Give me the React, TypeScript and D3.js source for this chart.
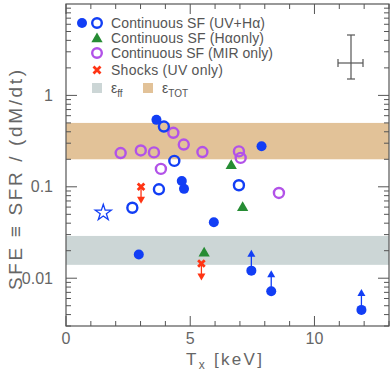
import * as d3 from "d3"

// T_x [keV] and SFE values
const uvFilledT = [3.64, 7.87, 4.66, 4.75, 5.95, 2.93]
const uvFilledSfe = [0.54, 0.278, 0.116, 0.095, 0.041, 0.0182]

const uvLimitT = [7.46, 8.26, 11.89]
const uvLimitSfe = [0.0121, 0.0072, 0.0045]

const uvOpenT = [3.94, 4.36, 3.74, 2.67, 6.96]
const uvOpenSfe = [0.456, 0.192, 0.094, 0.059, 0.104]

const starT = [1.5]
const starSfe = [0.052]

const haT = [6.65, 7.11, 5.56]
const haSfe = [0.174, 0.0605, 0.0192]

const mirT = [2.2, 3.01, 3.54, 4.32, 4.74, 5.49, 6.96, 7.03, 3.82, 8.57]
const mirSfe = [0.234, 0.25, 0.238, 0.39, 0.29, 0.24, 0.244, 0.207, 0.157, 0.0856]

const shockT = [3.02, 5.45]
const shockSfe = [0.1, 0.0145]

const effBand = [0.014, 0.029]
const etotBand = [0.2, 0.5]

const xTickLabels = [0, 5, 10]
const yTickLabels = [0.01, 0.1, 1]

const W = 391
const H = 378
const BLUE = "rgb(18,62,245)"
const PURPLE = "rgb(178,82,232)"
const GREEN = "rgb(38,140,52)"
const RED = "rgb(255,52,20)"
const TAN = "rgb(226,194,152)"
const GREY = "rgb(204,214,214)"
const AXIS = "#555"
const FONT = "'Liberation Sans', Arial, sans-serif"

const x = d3.scaleLinear().domain([0, 13]).range([66, 389])
const y = d3.scaleLog().domain([0.003, 10]).range([326, 4])

const tri = d3.symbol().type(d3.symbolTriangle).size(55)()
const star = d3.symbol().type(d3.symbolStar).size(80)()

function Cross({ cx, cy, s = 4 }: { cx: number; cy: number; s?: number }) {
  return (
    <path
      d={`M${cx - s},${cy - s}L${cx + s},${cy + s}M${cx - s},${cy + s}L${cx + s},${cy - s}`}
      stroke={RED}
      strokeWidth={2.8}
    />
  )
}

function Arrow({ cx, y0, y1, color }: { cx: number; y0: number; y1: number; color: string }) {
  const dir = y1 < y0 ? -1 : 1
  return (
    <g>
      <line x1={cx} x2={cx} y1={y0} y2={y1 - dir * 6} stroke={color} strokeWidth={1.3} />
      <path d={`M${cx - 4},${y1 - dir * 7}L${cx + 4},${y1 - dir * 7}L${cx},${y1}Z`} fill={color} />
    </g>
  )
}

export default function App() {
  const xMinor = d3.range(0, 14)
  const yMinor: number[] = []
  for (const dec of [0.001, 0.01, 0.1, 1]) {
    for (let k = 1; k < 10; k++) {
      const v = dec * k
      if (v >= 0.003 && v <= 10) yMinor.push(v)
    }
  }
  const [x0, x1] = x.range()
  const [yb, yt] = y.range()

  return (
    <svg width={W} height={H} style={{ position: "absolute", left: 0, top: 0, background: "#fff" }} fontFamily={FONT}>
      {/* bands */}
      <rect x={x0} width={x1 - x0} y={y(effBand[1])} height={y(effBand[0]) - y(effBand[1])} fill={GREY} />
      <rect x={x0} width={x1 - x0} y={y(etotBand[1])} height={y(etotBand[0]) - y(etotBand[1])} fill={TAN} />

      {/* ticks */}
      {xMinor.map((t) => {
        const len = t % 5 === 0 ? 10 : 5
        return (
          <g key={"xt" + t} stroke={AXIS} strokeWidth={1}>
            <line x1={x(t)} x2={x(t)} y1={yb} y2={yb - len} />
            <line x1={x(t)} x2={x(t)} y1={yt} y2={yt + len} />
          </g>
        )
      })}
      {yMinor.map((v, i) => {
        const major = Math.abs(Math.log10(v) - Math.round(Math.log10(v))) < 1e-9
        const len = major ? 11 : 5
        return (
          <g key={"yt" + i} stroke={AXIS} strokeWidth={1}>
            <line x1={x0} x2={x0 + len} y1={y(v)} y2={y(v)} />
            <line x1={x1} x2={x1 - len} y1={y(v)} y2={y(v)} />
          </g>
        )
      })}
      <rect x={x0} y={yt} width={x1 - x0} height={yb - yt} fill="none" stroke={AXIS} strokeWidth={1.2} />

      {/* tick labels */}
      {xTickLabels.map((t) => (
        <text key={"xl" + t} x={x(t)} y={344} textAnchor="middle" fontSize={16} fill="#666">
          {t}
        </text>
      ))}
      {yTickLabels.map((v) => (
        <text key={"yl" + v} x={53} y={y(v)} dy="0.35em" textAnchor="end" fontSize={16} fill="#666">
          {v}
        </text>
      ))}

      {/* axis titles */}
      <text x={224} y={365} textAnchor="middle" fontSize={17} fill="#666" textLength={76} lengthAdjust="spacing">
        T<tspan fontSize={12} dy={4}>x</tspan>
        <tspan dy={-4}> [keV]</tspan>
      </text>
      <text
        transform="translate(22,180) rotate(-90)"
        textAnchor="middle"
        fontSize={19}
        fill="#666"
        textLength={220}
        lengthAdjust="spacing"
      >
        SFE ≡ SFR / (dM/dt)
      </text>

      {/* MIR only */}
      {mirT.map((t, i) => (
        <circle key={"m" + i} cx={x(t)} cy={y(mirSfe[i])} r={5} fill="none" stroke={PURPLE} strokeWidth={2.4} />
      ))}
      {/* Halpha only */}
      {haT.map((t, i) => (
        <path key={"h" + i} d={tri} transform={`translate(${x(t)},${y(haSfe[i]) + 1})`} fill={GREEN} />
      ))}
      {/* UV+Halpha open */}
      {uvOpenT.map((t, i) => (
        <circle key={"o" + i} cx={x(t)} cy={y(uvOpenSfe[i])} r={5} fill="none" stroke={BLUE} strokeWidth={2.4} />
      ))}
      {starT.map((t, i) => (
        <path key={"s" + i} d={star} transform={`translate(${x(t)},${y(starSfe[i])})`} fill="none" stroke={BLUE} strokeWidth={1.3} />
      ))}
      {/* UV+Halpha filled */}
      {uvFilledT.map((t, i) => (
        <circle key={"f" + i} cx={x(t)} cy={y(uvFilledSfe[i])} r={5} fill={BLUE} />
      ))}
      {uvLimitT.map((t, i) => (
        <g key={"l" + i}>
          <Arrow cx={x(t)} y0={y(uvLimitSfe[i])} y1={y(uvLimitSfe[i]) - 21} color={BLUE} />
          <circle cx={x(t)} cy={y(uvLimitSfe[i])} r={5} fill={BLUE} />
        </g>
      ))}
      {/* shocks, upper limits */}
      {shockT.map((t, i) => (
        <g key={"x" + i}>
          <Arrow cx={x(t)} y0={y(shockSfe[i])} y1={y(shockSfe[i]) + 17} color={RED} />
          <Cross cx={x(t)} cy={y(shockSfe[i])} s={3.3} />
        </g>
      ))}

      {/* legend */}
      <g fontSize={14} fill="#555">
        <circle cx={82} cy={23} r={5} fill={BLUE} />
        <circle cx={97} cy={23} r={4.8} fill="none" stroke={BLUE} strokeWidth={2.4} />
        <text x={111} y={23} dy="0.35em" textLength={154} lengthAdjust="spacing">Continuous SF (UV+Hα)</text>
        <path d={tri} transform="translate(97,39)" fill={GREEN} />
        <text x={111} y={38} dy="0.35em" textLength={153} lengthAdjust="spacing">Continuous SF (Hαonly)</text>
        <circle cx={97} cy={53} r={4.8} fill="none" stroke={PURPLE} strokeWidth={2.4} />
        <text x={111} y={53} dy="0.35em" textLength={162} lengthAdjust="spacing">Continuous SF (MIR only)</text>
        <Cross cx={97} cy={70} s={3.5} />
        <text x={111} y={70} dy="0.35em" textLength={112} lengthAdjust="spacing">Shocks (UV only)</text>
        <rect x={92} y={83} width={10} height={10} fill={GREY} />
        <text x={111} y={88} dy="0.35em">
          ε<tspan fontSize={10} dy={4}>ff</tspan>
        </text>
        <rect x={143} y={83} width={10} height={10} fill={TAN} />
        <text x={162} y={88} dy="0.35em">
          ε<tspan fontSize={10} dy={4}>TOT</tspan>
        </text>
      </g>

      {/* typical error bar */}
      <g stroke={AXIS} strokeWidth={1.2}>
        <line x1={351} x2={351} y1={35} y2={79} />
        <line x1={347} x2={355} y1={35} y2={35} />
        <line x1={347} x2={355} y1={79} y2={79} />
        <line x1={338} x2={363} y1={63} y2={63} />
        <line x1={338} x2={338} y1={59} y2={67} />
        <line x1={363} x2={363} y1={59} y2={67} />
      </g>
    </svg>
  )
}
